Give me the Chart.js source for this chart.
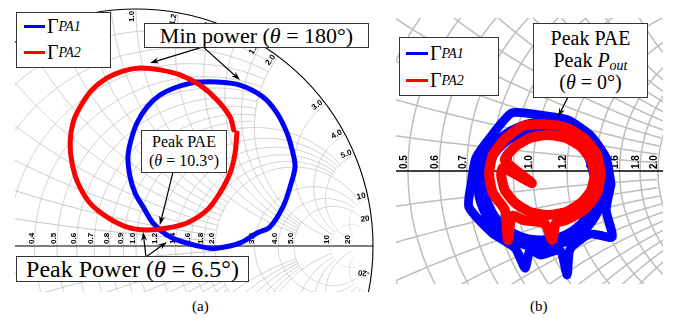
<!DOCTYPE html>
<html lang="en">
<head>
<meta charset="UTF-8">
<title>Load trajectories on the Smith chart</title>
<script src="https://cdn.jsdelivr.net/npm/chart.js@4"></script>
<style>
  body { margin: 0; background: #fff; width: 681px; height: 325px; position: relative; overflow: hidden;
         font-family: "Liberation Serif", "Times New Roman", "DejaVu Serif", serif; color: #000; }
  .panel { position: absolute; }
  .box { position: absolute; background: #fff; border: 1.3px solid #333; box-sizing: border-box;
         text-align: center; white-space: nowrap; z-index: 2; }
  .row { position: absolute; left: 0; display: flex; align-items: center; }
  .swatch { display: inline-block; height: 3px; margin-right: 2px; }
  sub { font-style: italic; vertical-align: -4px; line-height: 0; }
  .cap { position: absolute; font-size: 15px; z-index: 2; }
</style>
</head>
<body>

<div class="panel" style="left:15px;top:0;width:365px;height:292px;"><canvas id="chartA"></canvas></div>
<div class="panel" style="left:396px;top:18px;width:267px;height:266px;"><canvas id="chartB"></canvas></div>

<!-- panel (a) annotations -->
<div class="box" style="left:16px;top:12px;width:95px;height:56px;">
  <div class="row" style="top:2px;left:7px;font-size:20px;"><span class="swatch" style="width:21px;background:#0000ff"></span>Γ<sub style="font-size:14px">PA1</sub></div>
  <div class="row" style="top:28px;left:7px;font-size:20px;"><span class="swatch" style="width:21px;background:#ff0000"></span>Γ<sub style="font-size:14px">PA2</sub></div>
</div>
<div class="box" style="left:144px;top:23px;width:225px;height:25px;font-size:22px;line-height:23px;">Min power (<i>θ</i> = 180°)</div>
<div class="box" style="left:141px;top:130px;width:86px;height:43px;font-size:16px;line-height:19px;padding-top:1px;">Peak PAE<br>(<i>θ</i> = 10.3°)</div>
<div class="box" style="left:16px;top:256px;width:233px;height:26px;font-size:24px;line-height:24px;">Peak Power (<i>θ</i> = 6.5°)</div>

<!-- panel (b) annotations -->
<div class="box" style="left:399px;top:37px;width:100px;height:59px;">
  <div class="row" style="top:4px;left:6px;font-size:20px;"><span class="swatch" style="width:22px;background:#0000ff"></span>Γ<sub style="font-size:14px">PA1</sub></div>
  <div class="row" style="top:31px;left:6px;font-size:20px;"><span class="swatch" style="width:22px;background:#ff0000"></span>Γ<sub style="font-size:14px">PA2</sub></div>
</div>
<div class="box" style="left:533px;top:23px;width:115px;height:75px;font-size:20px;line-height:22px;padding-top:3px;">Peak PAE<br>Peak <i>P</i><sub style="font-size:14px;vertical-align:-3px">out</sub><br>(<i>θ</i> = 0°)</div>

<div class="cap" style="left:192px;top:298px;">(a)</div>
<div class="cap" style="left:530px;top:298px;">(b)</div>

<script>
// Smith chart grid: circle values and how far each one is drawn
const gridValues = [0.1, 0.2, 0.3, 0.4, 0.5, 0.6, 0.7, 0.8, 0.9, 1.0, 1.2, 1.4, 1.6, 1.8, 2.0, 3.0, 4.0, 5.0, 10, 20, 50];
const gridLimits = [2, 2, 2, 2, 2, 2, 2, 2, 2, 5, 5, 5, 5, 5, 10, 10, 10, 20, 20, 50, Infinity];

// tick labels
const realLabelsA = ['0.4', '0.5', '0.6', '0.7', '0.8', '0.9', '1.0', '1.2', '1.4', '1.6', '1.8', '2.0', '3.0', '4.0', '5.0', '10', '20'];
const arcLabelsA = ['1.0', '1.2', '1.4', '1.6', '1.8', '2.0', '3.0', '4.0', '5.0', '10', '20', '-20'];
const realLabelsB = ['0.5', '0.6', '0.7', '0.8', '0.9', '1.0', '1.2', '1.4', '1.6', '1.8', '2.0'];

// (a) reflection coefficient traces [Re, Im]
const gammaPA1a = [
  [0.249, 0.692], [0.342, 0.692], [0.439, 0.679], [0.536, 0.629], [0.595, 0.561], [0.637, 0.477],
  [0.662, 0.392], [0.671, 0.333], [0.650, 0.249], [0.620, 0.165], [0.565, 0.080], [0.511, 0.055],
  [0.439, 0.013], [0.354, -0.008], [0.300, -0.008], [0.198, 0.017], [0.131, 0.046], [0.072, 0.097],
  [0.030, 0.165], [-0.004, 0.224], [-0.025, 0.291], [-0.034, 0.376], [-0.021, 0.447], [0.004, 0.519],
  [0.046, 0.586], [0.101, 0.637], [0.173, 0.671], [0.249, 0.692]
];
const gammaPA2a = [
  [0.426, 0.477], [0.418, 0.392], [0.397, 0.308], [0.354, 0.224], [0.300, 0.152], [0.215, 0.097],
  [0.131, 0.076], [0.046, 0.068], [-0.038, 0.080], [-0.122, 0.122], [-0.194, 0.181], [-0.245, 0.266],
  [-0.270, 0.350], [-0.278, 0.435], [-0.266, 0.519], [-0.236, 0.586], [-0.186, 0.658], [-0.122, 0.709],
  [-0.055, 0.738], [0.017, 0.751], [0.101, 0.743], [0.186, 0.722], [0.270, 0.679], [0.342, 0.616],
  [0.397, 0.544], [0.412, 0.490]
];

// (b) reflection coefficient traces [Re, Im], several noisy revolutions each
const gammaPA1bOuter = [
  [0.208, -0.035], [0.195, 0.035], [0.152, 0.096], [0.093, 0.136], [0.021, 0.149], [-0.056, 0.155],
  [-0.109, 0.096], [-0.152, 0.035], [-0.165, -0.035], [-0.171, -0.096], [-0.109, -0.165],
  [-0.048, -0.205], [-0.021, -0.259], [-0.008, -0.211], [0.021, -0.224], [0.072, -0.211],
  [0.091, -0.277], [0.099, -0.208], [0.152, -0.168], [0.211, -0.176], [0.195, -0.104], [0.208, -0.035]
];
const gammaPA1bMid = [
  [0.189, -0.037], [0.176, 0.027], [0.139, 0.080], [0.085, 0.115], [0.021, 0.131], [-0.043, 0.115],
  [-0.096, 0.080], [-0.133, 0.027], [-0.147, -0.037], [-0.133, -0.101], [-0.096, -0.155],
  [-0.043, -0.189], [0.021, -0.205], [0.085, -0.189], [0.139, -0.155], [0.176, -0.101], [0.189, -0.037]
];
const gammaPA1bInner = [
  [0.171, -0.037], [0.128, 0.067], [0.021, 0.109], [-0.085, 0.067], [-0.128, -0.037],
  [-0.085, -0.141], [0.021, -0.184], [0.128, -0.141], [0.171, -0.037]
];
const gammaPA2bOuter = [
  [0.181, -0.008], [0.171, 0.043], [0.139, 0.085], [0.091, 0.115], [0.032, 0.125], [-0.027, 0.120],
  [-0.075, 0.085], [-0.107, 0.043], [-0.117, -0.008], [-0.107, -0.059], [-0.075, -0.104],
  [-0.067, -0.184], [-0.056, -0.120], [-0.024, -0.131], [0.032, -0.141], [0.051, -0.184],
  [0.061, -0.139], [0.088, -0.131], [0.139, -0.101], [0.171, -0.059], [0.181, -0.008]
];
const gammaPA2bInner = [
  [0.165, -0.011], [0.155, 0.029], [0.128, 0.064], [0.088, 0.088], [0.040, 0.096], [-0.008, 0.088],
  [-0.048, 0.064], [-0.075, 0.029], [-0.003, -0.032], [-0.080, 0.008], [-0.085, -0.011],
  [-0.075, -0.051], [-0.048, -0.085], [-0.008, -0.109], [0.040, -0.117], [0.088, -0.109],
  [0.128, -0.085], [0.155, -0.051], [0.165, -0.011]
];

// annotation arrows [from, to] in reflection-coefficient units
const arrowsA = [
  [[0.283, 0.840], [0.059, 0.772]],
  [[0.283, 0.840], [0.439, 0.700]],
  [[0.156, 0.312], [0.101, 0.089]],
  [[0.042, -0.046], [0.030, 0.059]],
  [[0.042, -0.046], [0.131, 0.017]]
];
const arrowsB = [
  [[0.093, 0.197], [0.067, 0.144]]
];

function traceCircle(ctx, px, py, gx0, gy0, rad, keep) {
  const N = 6000;
  ctx.beginPath();
  let pen = false;
  for (let k = 0; k <= N; k++) {
    const a = 2 * Math.PI * k / N;
    const gx = gx0 + rad * Math.cos(a), gy = gy0 + rad * Math.sin(a);
    const d = (1 - gx) * (1 - gx) + gy * gy;
    let ok = gx * gx + gy * gy <= 1.0001 && d > 1e-9;
    if (ok) ok = keep((1 - gx * gx - gy * gy) / d, 2 * gy / d);
    if (ok) {
      if (pen) ctx.lineTo(px(gx), py(gy));
      else { ctx.moveTo(px(gx), py(gy)); pen = true; }
    } else pen = false;
  }
  ctx.stroke();
}

function drawArrow(ctx, x1, y1, x2, y2) {
  const ang = Math.atan2(y2 - y1, x2 - x1), L = 9, W = 3;
  ctx.beginPath();
  ctx.moveTo(x1, y1);
  ctx.lineTo(x2 - Math.cos(ang) * 5, y2 - Math.sin(ang) * 5);
  ctx.stroke();
  ctx.beginPath();
  ctx.moveTo(x2, y2);
  ctx.lineTo(x2 - L * Math.cos(ang) + W * Math.sin(ang), y2 - L * Math.sin(ang) - W * Math.cos(ang));
  ctx.lineTo(x2 - 6 * Math.cos(ang), y2 - 6 * Math.sin(ang));
  ctx.lineTo(x2 - L * Math.cos(ang) - W * Math.sin(ang), y2 - L * Math.sin(ang) + W * Math.cos(ang));
  ctx.closePath();
  ctx.fill();
}

function smithPlugin(cfg) {
  return {
    id: 'smith',
    beforeDatasetsDraw(chart) {
      const { ctx, chartArea: ca, scales: { x: sx, y: sy } } = chart;
      const px = g => sx.getPixelForValue(g), py = g => sy.getPixelForValue(g);
      const cx = px(0), cy = py(0), R = px(1) - cx;
      ctx.save();
      ctx.fillStyle = '#fff';
      ctx.fillRect(ca.left, ca.top, ca.right - ca.left, ca.bottom - ca.top);
      ctx.beginPath();
      ctx.rect(ca.left, ca.top, ca.right - ca.left, ca.bottom - ca.top);
      ctx.clip();

      ctx.save();
      ctx.beginPath();
      ctx.arc(cx, cy, R, 0, 2 * Math.PI);
      ctx.clip();
      ctx.strokeStyle = cfg.gridColor;
      ctx.lineWidth = cfg.gridWidth;
      gridValues.forEach((v, i) => {
        const lim = gridLimits[i];
        traceCircle(ctx, px, py, v / (1 + v), 0, 1 / (1 + v), (zr, zi) => Math.abs(zi) <= lim + 1e-9);
        traceCircle(ctx, px, py, 1, 1 / v, 1 / v, zr => zr <= lim + 1e-9);
        traceCircle(ctx, px, py, 1, -1 / v, 1 / v, zr => zr <= lim + 1e-9);
      });
      ctx.restore();

      // real axis and unit circle
      ctx.strokeStyle = cfg.axisColor;
      ctx.lineWidth = cfg.axisWidth;
      ctx.beginPath();
      ctx.moveTo(px(-1), cy);
      ctx.lineTo(px(1), cy);
      ctx.stroke();
      ctx.strokeStyle = '#000';
      ctx.lineWidth = 1.1;
      ctx.beginPath();
      ctx.arc(cx, cy, R, 0, 2 * Math.PI);
      ctx.stroke();

      // resistance labels along the real axis
      ctx.fillStyle = '#000';
      ctx.font = cfg.labelFont;
      ctx.textBaseline = 'bottom';
      cfg.realLabels.forEach(t => {
        const r = parseFloat(t), g = (r - 1) / (r + 1);
        ctx.save();
        ctx.translate(px(g) + 1, cy - 2);
        ctx.rotate(-Math.PI / 2);
        ctx.textAlign = 'left';
        ctx.fillText(t, 0, 0);
        ctx.restore();
      });
      // reactance labels along the unit circle
      (cfg.arcLabels || []).forEach(t => {
        const x = parseFloat(t), d = x * x + 1;
        const gx = (x * x - 1) / d, gy = 2 * x / d;
        const th = Math.atan2(gy, gx);
        const ex = px(gx * 0.992), ey = py(gy * 0.992);
        ctx.save();
        ctx.translate(ex, ey);
        if (x > 0) { ctx.rotate(-th); ctx.textAlign = 'right'; }
        else { ctx.rotate(Math.PI - th); ctx.textAlign = 'left'; }
        ctx.fillText(t, 0, 0);
        ctx.restore();
      });
      ctx.restore();
    },
    afterDatasetsDraw(chart) {
      const { ctx, scales: { x: sx, y: sy } } = chart;
      ctx.save();
      ctx.strokeStyle = '#000';
      ctx.fillStyle = '#000';
      ctx.lineWidth = 1.2;
      cfg.arrows.forEach(([a, b]) => {
        drawArrow(ctx, sx.getPixelForValue(a[0]), sy.getPixelForValue(a[1]),
                  sx.getPixelForValue(b[0]), sy.getPixelForValue(b[1]));
      });
      ctx.restore();
    }
  };
}

function trace(points, color, width, order, tension) {
  return {
    data: points.map(([x, y]) => ({ x, y })),
    showLine: true,
    borderColor: color,
    backgroundColor: color,
    borderWidth: width,
    borderJoinStyle: 'round',
    borderCapStyle: 'round',
    pointRadius: 0,
    tension: tension,
    order: order
  };
}

function makeChart(id, datasets, view, cfg) {
  // view: pixel position of the chart centre inside the canvas and pixels per unit
  const el = document.getElementById(id).parentNode;
  const w = el.clientWidth, h = el.clientHeight;
  return new Chart(document.getElementById(id), {
    type: 'scatter',
    data: { datasets: datasets },
    options: {
      responsive: true,
      maintainAspectRatio: false,
      animation: false,
      events: [],
      layout: { padding: 0 },
      plugins: { legend: { display: false }, tooltip: { enabled: false } },
      scales: {
        x: { type: 'linear', display: false, min: -view.cx / view.k, max: (w - view.cx) / view.k },
        y: { type: 'linear', display: false, min: -(h - view.cy) / view.k, max: view.cy / view.k }
      }
    },
    plugins: [smithPlugin(cfg)]
  });
}

makeChart('chartA',
  [trace(gammaPA2a, '#ff0000', 5, 0, 0.35), trace(gammaPA1a, '#0000ff', 5, 1, 0.35)],
  { cx: 121, cy: 246, k: 237 },
  { gridColor: '#c4c4c4', gridWidth: 1, axisColor: '#555', axisWidth: 1.4,
    labelFont: 'bold 8px "Liberation Sans", Arial, sans-serif',
    realLabels: realLabelsA, arcLabels: arcLabelsA, arrows: arrowsA });

makeChart('chartB',
  [trace(gammaPA2bOuter, '#ff0000', 10, 0, 0.2), trace(gammaPA2bInner, '#ff0000', 10, 1, 0.2),
   trace(gammaPA1bOuter, '#0000ff', 9, 2, 0.2), trace(gammaPA1bMid, '#0000ff', 9, 3, 0.3),
   trace(gammaPA1bInner, '#0000ff', 9, 4, 0.4)],
  { cx: 137, cy: 153, k: 375 },
  { gridColor: '#bdbdbd', gridWidth: 1.5, axisColor: '#000', axisWidth: 1.5,
    labelFont: 'bold 10px "Liberation Sans", Arial, sans-serif',
    realLabels: realLabelsB, arrows: arrowsB });
</script>
</body>
</html>
